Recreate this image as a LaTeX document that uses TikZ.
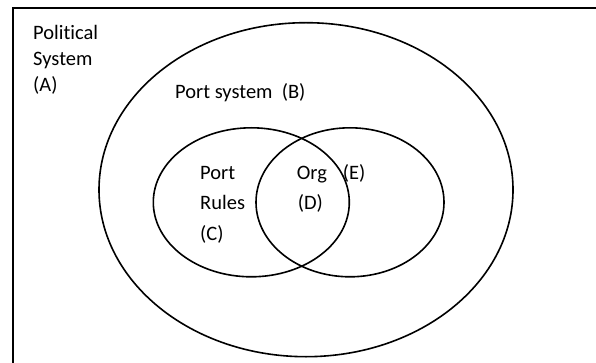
\documentclass[tikz,border=0pt]{standalone}
\usepackage{fontspec}
\setmainfont[Ligatures={NoCommon,NoContextual}]{Carlito}
\usetikzlibrary{shapes.geometric}
\begin{document}
\begin{tikzpicture}[x=1pt,y=-1pt,
  region/.style={draw=black,line width=1.6pt,ellipse,inner sep=0pt},
  lbl/.style={anchor=base west,inner sep=0pt,font=\fontsize{20.5}{24}\selectfont}]
  \useasboundingbox (0,0) rectangle (596,363);
  % frame of the political system (open at right and bottom)
  \coordinate (fb) at (12.8,365);
  \coordinate (fc) at (12.8,8.3);
  \coordinate (fr) at (598,8.3);
  \draw[line width=2pt] (fb) -- (fc) -- (fr);
  % port system
  \node[region,minimum width=414pt,minimum height=334pt] (B) at (306,189.7) {};
  % port rules and organisation
  \node[region,minimum width=196pt,minimum height=149pt] (C) at (251.3,202.3) {};
  \node[region,minimum width=188pt,minimum height=149pt] (E) at (350,202.3) {};
  % labels
  \node[lbl] (a1) at (33,39.3) {Political};
  \node[lbl] (a2) at (33,65.5) {System};
  \node[lbl] (a3) at (33,92) {(A)};
  \node[lbl] (b1) at (175,98.5) {Port system\hspace{0.45em}(B)};
  \node[lbl] (c1) at (200,180) {Port};
  \node[lbl] (c2) at (200,209.3) {Rules};
  \node[lbl] (c3) at (200,240.5) {(C)};
  \node[lbl] (d1) at (296.7,180) {Org};
  \node[lbl] (d2) at (297.7,209.3) {(D)};
  \node[lbl] (e1) at (342.7,180) {(E)};
\end{tikzpicture}
\end{document}
